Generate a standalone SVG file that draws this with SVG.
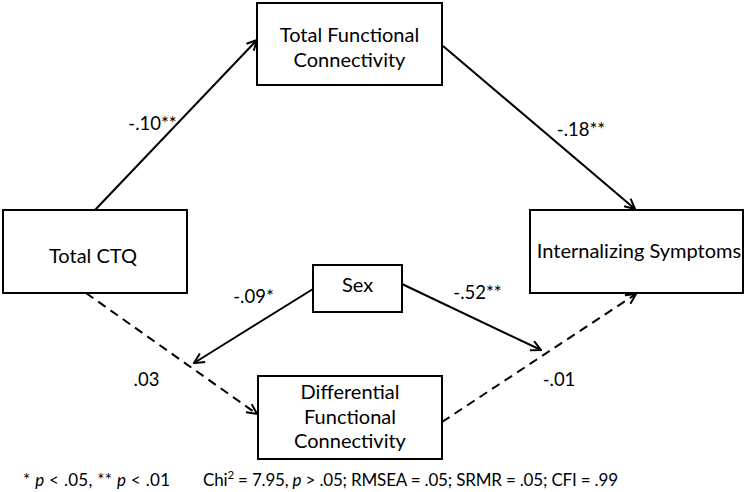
<svg xmlns="http://www.w3.org/2000/svg" width="747" height="492" viewBox="0 0 747 492">
<style>
.box{fill:#fff;stroke:#000;stroke-width:2}
.nt{font-family:Lato,"Liberation Sans",sans-serif;font-size:20px;fill:#000;text-anchor:middle}
.lb{font-family:Lato,"Liberation Sans",sans-serif;font-size:18.5px;fill:#000;text-anchor:middle}
.fn{font-family:Lato,"Liberation Sans",sans-serif;font-size:17px;fill:#000}
.ln{fill:none;stroke:#000;stroke-width:2;marker-end:url(#ah)}
.ds{stroke-dasharray:9 6}
</style>
<defs>
<marker id="ah" viewBox="0 0 12 12" refX="11" refY="6" markerWidth="12" markerHeight="12" markerUnits="userSpaceOnUse" orient="auto">
<path d="M1,1 L11,6 L1,11" fill="none" stroke="#000" stroke-width="2"/>
</marker>
</defs>
<rect width="747" height="492" fill="#fff"/>
<g id="connectors">
<line class="ln" x1="95" y1="210" x2="257" y2="40"/>
<line class="ln" x1="443" y1="46" x2="635" y2="209"/>
<line class="ln ds" x1="86" y1="293" x2="257" y2="414"/>
<line class="ln ds" x1="442" y1="422" x2="636" y2="294"/>
<line class="ln" x1="313" y1="289" x2="194" y2="363"/>
<line class="ln" x1="402" y1="284" x2="541" y2="350"/>
</g>
<g id="labels">
<text class="lb" x="152.5" y="130">-.10**</text>
<text class="lb" x="581" y="136">-.18**</text>
<text class="lb" x="253.5" y="303">-.09*</text>
<text class="lb" x="477.5" y="299">-.52**</text>
<text class="lb" x="146.5" y="386">.03</text>
<text class="lb" x="559" y="386">-.01</text>
</g>
<g id="node-tfc">
<rect class="box" x="257" y="3" width="185" height="82"/>
<text class="nt" x="349.5" y="42">Total Functional</text>
<text class="nt" x="349.5" y="67">Connectivity</text>
</g>
<g id="node-ctq">
<rect class="box" x="3" y="210" width="184" height="83"/>
<text class="nt" x="93" y="263">Total CTQ</text>
</g>
<g id="node-is">
<rect class="box" x="530" y="210" width="213" height="83"/>
<text class="nt" x="639" y="258">Internalizing Symptoms</text>
</g>
<g id="node-sex">
<rect class="box" x="313" y="265" width="89" height="47"/>
<text class="nt" x="357.5" y="292">Sex</text>
</g>
<g id="node-dfc">
<rect class="box" x="258" y="376" width="184" height="83"/>
<text class="nt" x="350" y="399">Differential</text>
<text class="nt" x="350" y="423.5">Functional</text>
<text class="nt" x="350" y="448">Connectivity</text>
</g>
<g id="footnote">
<text class="fn" x="23" y="486" textLength="147">* <tspan font-style="italic">p</tspan> &lt; .05, ** <tspan font-style="italic">p</tspan> &lt; .01</text>
<text class="fn" x="203" y="486" textLength="415">Chi<tspan font-size="11.5" dy="-7">2</tspan><tspan dy="7"> = 7.95, </tspan><tspan font-style="italic">p</tspan> &gt; .05; RMSEA = .05; SRMR = .05; CFI = .99</text>
</g>
</svg>
